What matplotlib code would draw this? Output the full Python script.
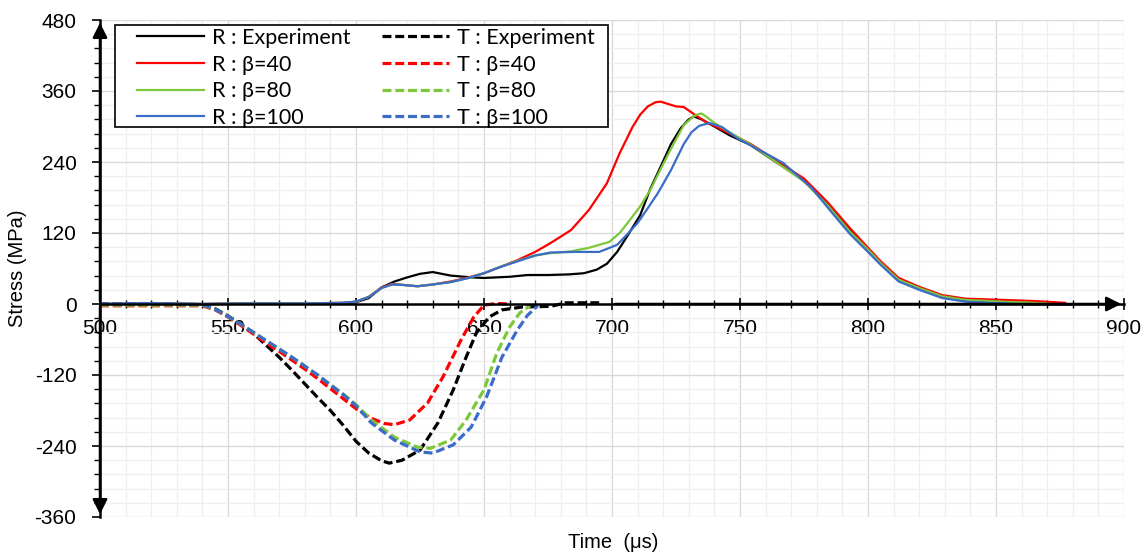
import numpy as np
import matplotlib
matplotlib.use("Agg")
import matplotlib.pyplot as plt
from matplotlib.patches import Rectangle
from matplotlib.ticker import MultipleLocator

# reflected waves (R) - time in us, stress in MPa
r_exp_t = [500, 520, 540, 560, 580, 595, 600, 605, 610, 615, 620, 625, 630, 637, 645, 650, 660, 667,
           675, 683, 689, 694, 698, 702, 706, 711, 715, 719, 723, 727, 730, 732, 735, 740, 746, 754,
           764, 775, 784, 793, 800, 805, 812, 820, 829, 838, 850, 860, 870]
r_exp_s = [0, 1, 0, 1, 1, 1, 3, 10, 28, 38, 45, 51, 54, 48, 45, 44, 46, 49,
           49, 50, 52, 58, 68, 88, 115, 150, 195, 232, 270, 298, 312, 317, 312, 300, 285, 269,
           240, 210, 171, 125, 92, 69, 42, 27, 13, 7, 4, 2, 0]

r_b40_t = [500, 520, 540, 560, 580, 595, 600, 605, 610, 614, 619, 624, 630, 637, 644, 650, 656, 663,
           670, 676, 684, 691, 698, 703, 708, 711, 714, 717, 719, 722, 725, 728, 733, 737, 741, 746,
           754, 764, 775, 784, 793, 800, 805, 812, 820, 829, 838, 852, 865, 877]
r_b40_s = [0, 1, 0, 1, 1, 2, 4, 12, 28, 34, 32, 30, 33, 38, 45, 52, 62, 74,
           88, 103, 125, 159, 204, 255, 299, 320, 334, 341, 342, 338, 334, 333, 318, 307, 299, 288,
           271, 243, 212, 173, 128, 95, 72, 44, 29, 15, 9, 7, 5, 2]

r_b80_t = [500, 520, 540, 560, 580, 595, 600, 605, 610, 614, 619, 624, 630, 637, 644, 650, 656, 663,
           670, 676, 684, 691, 699, 703, 707, 711, 715, 719, 723, 728, 731, 733, 735, 737, 740, 746,
           754, 764, 775, 784, 793, 800, 805, 812, 820, 829, 838, 852, 865, 872]
r_b80_s = [0, 1, 0, 1, 1, 2, 4, 12, 27, 33, 32, 30, 33, 37, 44, 52, 62, 73,
           82, 86, 89, 95, 105, 120, 142, 165, 193, 228, 262, 302, 314, 320, 322, 316, 306, 290,
           270, 240, 207, 168, 122, 92, 69, 41, 27, 13, 7, 4, 2, 0]

r_b100_t = [500, 520, 540, 560, 580, 595, 600, 605, 610, 614, 619, 624, 630, 637, 644, 650, 656, 663,
            670, 676, 685, 695, 702, 706, 710, 714, 718, 723, 728, 731, 734, 738, 743, 749, 759, 767,
            778, 786, 793, 800, 805, 812, 820, 829, 838, 852, 865, 881]
r_b100_s = [0, 1, 0, 1, 1, 2, 4, 12, 27, 33, 32, 30, 33, 37, 44, 52, 62, 72,
            82, 87, 88, 88, 100, 118, 137, 162, 188, 226, 270, 290, 301, 306, 299, 280, 257, 238,
            196, 154, 118, 88, 66, 38, 24, 10, 4, 1, -1, -1]

# transmitted waves (T)
t_exp_t = [500, 520, 540, 545, 550, 555, 560, 565, 570, 575, 580, 585, 590, 595, 600, 605, 610, 613,
           618, 625, 632, 638, 643, 647, 652, 657, 665, 676, 682, 695]
t_exp_s = [0, 0, -2, -8, -20, -34, -50, -70, -90, -112, -135, -158, -180, -205, -232, -252, -265, -269,
           -264, -247, -201, -145, -90, -49, -22, -10, -5, -4, 2, 2]

t_b40_t = [500, 520, 540, 545, 550, 555, 560, 565, 570, 575, 580, 585, 590, 595, 600, 606, 611, 615,
           621, 628, 634, 641, 646, 650, 655, 659]
t_b40_s = [-3, -3, -3, -10, -22, -36, -51, -66, -80, -95, -110, -126, -143, -160, -177, -193, -202, -204,
           -196, -167, -123, -61, -22, -2, 1, 0]

t_b80_t = [500, 520, 540, 545, 550, 555, 560, 565, 570, 575, 580, 585, 590, 595, 600, 606, 615, 624,
           629, 637, 643, 650, 655, 660, 664, 668]
t_b80_s = [-2, -2, -2, -9, -21, -34, -48, -62, -76, -90, -105, -120, -136, -152, -170, -196, -225, -242,
           -244, -230, -196, -145, -83, -39, -15, -3]

t_b100_t = [500, 520, 540, 545, 550, 555, 560, 565, 570, 575, 580, 585, 590, 595, 600, 606, 615, 625,
            630, 638, 645, 651, 657, 663, 667, 671]
t_b100_s = [0, 1, -1, -9, -21, -34, -48, -62, -76, -90, -105, -120, -137, -153, -172, -201, -230, -250,
            -252, -238, -208, -157, -90, -44, -19, -3]

BLACK = "#000000"
RED = "#ff0000"
GREEN = "#7cc83a"
BLUE = "#3a6cc8"

plt.rcParams["font.family"] = ["Liberation Sans", "DejaVu Sans"]
plt.rcParams["axes.unicode_minus"] = False

W, H = 1148, 556
fig = plt.figure(figsize=(W / 100, H / 100), dpi=100)
ax = fig.add_axes([100 / W, 1 - 517 / H, 1024 / W, 497 / H])

lw = 1.6
dlw = 2.3
dash = (2.8, 1.2)
ax.plot(r_exp_t, r_exp_s, color=BLACK, lw=lw, label="R : Experiment")
ax.plot(r_b40_t, r_b40_s, color=RED, lw=lw, label="R : β=40")
ax.plot(r_b80_t, r_b80_s, color=GREEN, lw=lw, label="R : β=80")
ax.plot(r_b100_t, r_b100_s, color=BLUE, lw=lw, label="R : β=100")
ax.plot(t_exp_t, t_exp_s, color=BLACK, lw=dlw, dashes=dash, label="T : Experiment")
ax.plot(t_b40_t, t_b40_s, color=RED, lw=dlw, dashes=dash, label="T : β=40")
ax.plot(t_b80_t, t_b80_s, color=GREEN, lw=dlw, dashes=dash, label="T : β=80")
ax.plot(t_b100_t, t_b100_s, color=BLUE, lw=dlw, dashes=dash, label="T : β=100")

ax.set_xlim(500, 900)
ax.set_ylim(-360, 480)
ax.xaxis.set_major_locator(MultipleLocator(50))
ax.xaxis.set_minor_locator(MultipleLocator(10))
ax.yaxis.set_major_locator(MultipleLocator(120))
ax.yaxis.set_minor_locator(MultipleLocator(24))
ax.grid(which="major", color="#d9d9d9", lw=1.0)
ax.grid(which="minor", color="#efefef", lw=0.9)
ax.set_axisbelow(True)

for s in ["top", "right"]:
    ax.spines[s].set_visible(False)
ax.spines["bottom"].set_position(("data", 0))
ax.spines["left"].set_linewidth(1.8)
ax.spines["bottom"].set_linewidth(1.8)
ax.tick_params(axis="both", which="major", direction="inout", length=9, width=1.2,
               labelsize=15, colors="black")
ax.tick_params(axis="both", which="minor", direction="inout", length=6, width=1.0)
ax.tick_params(axis="x", which="major", pad=6)
ax.tick_params(axis="y", which="major", pad=11, direction="out", length=6)
ax.tick_params(axis="y", which="minor", direction="out", length=4)

# arrow heads on the axes
ax.annotate("", xy=(500, 480), xytext=(500, 0),
            arrowprops=dict(arrowstyle="-|>", color="black", lw=1.8, mutation_scale=22))
ax.annotate("", xy=(500, -360), xytext=(500, 0),
            arrowprops=dict(arrowstyle="-|>", color="black", lw=1.8, mutation_scale=22))
ax.annotate("", xy=(900, 0), xytext=(700, 0),
            arrowprops=dict(arrowstyle="-|>", color="black", lw=1.8, mutation_scale=22))

fig.text(18 / W, 1 - 268 / H, "Stress (MPa)", rotation=90, ha="center", va="center", fontsize=14.5)
fig.text(613 / W, 1 - 542 / H, "Time  (μs)", ha="center", va="center", fontsize=14.5)

# legend without its own frame, box drawn separately behind it
box = Rectangle((115 / W, 1 - 127 / H), (608 - 115) / W, (127 - 25) / H,
                transform=fig.transFigure, facecolor="white", edgecolor="black",
                lw=1.2, zorder=4, clip_on=False)
ax.add_patch(box)
leg = ax.legend(ncol=2, loc="upper left", bbox_to_anchor=(137 / W, 1 - 28 / H),
                bbox_transform=fig.transFigure,
                fontsize=15.5, handlelength=3.1, handletextpad=0.37, columnspacing=1.5,
                labelspacing=0.31, borderpad=0, frameon=False, borderaxespad=0)
leg.set_zorder(5)
for t in leg.get_texts():
    t.set_fontfamily(["Lato", "DejaVu Sans"])

fig.savefig("out.png", dpi=100)
